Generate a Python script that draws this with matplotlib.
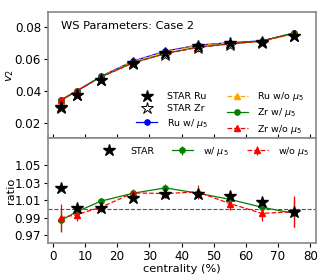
import matplotlib
matplotlib.use("Agg")
import matplotlib.pyplot as plt
import numpy as np

cent = [2.5, 7.5, 15, 25, 35, 45, 55, 65, 75]

star_ru = [0.0297, 0.0376, 0.0470, 0.0578, 0.0638, 0.0683, 0.0700, 0.0708, 0.0745]
star_zr = [0.0290, 0.0376, 0.0470, 0.0571, 0.0627, 0.0671, 0.0690, 0.0703, 0.0747]
ru_w = [0.0340, 0.0400, 0.0492, 0.0588, 0.0650, 0.0688, 0.0703, 0.0715, 0.0762]
ru_wo = [0.0338, 0.0398, 0.0490, 0.0586, 0.0646, 0.0686, 0.0700, 0.0710, 0.0760]
zr_w = [0.0344, 0.0401, 0.0488, 0.0578, 0.0635, 0.0676, 0.0695, 0.0714, 0.0766]
zr_wo = [0.0341, 0.0401, 0.0489, 0.0576, 0.0635, 0.0673, 0.0696, 0.0714, 0.0762]

ratio_star = [1.024, 1.001, 1.001, 1.0126, 1.0176, 1.0176, 1.015, 1.0074, 0.997]
ratio_w = [0.987, 0.997, 1.009, 1.018, 1.024, 1.018, 1.011, 1.002, 0.995]
ratio_w_err = [0.012, 0.005, 0.004, 0.004, 0.004, 0.005, 0.005, 0.006, 0.016]
ratio_wo = [0.990, 0.9937, 1.002, 1.0183, 1.0176, 1.0194, 1.0062, 0.995, 0.997]
ratio_wo_err = [0.016, 0.007, 0.005, 0.005, 0.005, 0.008, 0.007, 0.009, 0.018]

fig = plt.figure(figsize=(3.2, 2.8), dpi=100)
ax1 = fig.add_axes([0.15, 0.507, 0.8375, 0.45])
ax2 = fig.add_axes([0.15, 0.132, 0.8375, 0.375], sharex=ax1)

fs = 8.2
tfs = 8.6
lfs = 6.8
ms = 3.8
sms = 8.8

ax1.plot(cent, ru_w, '-o', color='blue', ms=ms, lw=0.9, label=r'Ru w/ $\mu_5$', zorder=2)
ax1.plot(cent, ru_wo, '--^', color='orange', ms=ms, lw=0.9, label=r'Ru w/o $\mu_5$', zorder=2)
ax1.plot(cent, zr_w, '-o', color='green', ms=ms, lw=0.9, label=r'Zr w/ $\mu_5$', zorder=2)
ax1.plot(cent, zr_wo, '--^', color='red', ms=ms, lw=0.9, label=r'Zr w/o $\mu_5$', zorder=2)
ax1.plot(cent, star_zr, '*', mfc='white', mec='black', ms=sms, mew=0.7, label='STAR Zr',
         zorder=3, linestyle='none')
ax1.plot(cent, star_ru, '*', color='black', ms=sms, label='STAR Ru', zorder=4, linestyle='none')

h, l = ax1.get_legend_handles_labels()
order = [5, 4, 0, 1, 2, 3]
ax1.legend([h[i] for i in order], [l[i] for i in order], ncol=2, frameon=False,
           fontsize=lfs, loc='lower right', bbox_to_anchor=(0.97, -0.01),
           handlelength=2.2, columnspacing=2.0,
           labelspacing=0.32, borderaxespad=0.0, handletextpad=1.0)

ax1.set_ylim(0.0104, 0.0896)
ax1.set_yticks([0.02, 0.04, 0.06, 0.08])
ax1.set_ylabel(r'$v_2$', fontsize=fs)
ax1.yaxis.set_label_coords(-0.118, 0.5)
ax1.text(0.05, 0.93, 'WS Parameters: Case 2', transform=ax1.transAxes, fontsize=fs,
         va='top', ha='left')
ax1.tick_params(axis='x', direction='in', labelbottom=False)

ax2.axhline(1.0, color='#555555', ls='--', lw=0.8, zorder=1)
ax2.errorbar(cent, ratio_w, yerr=ratio_w_err, fmt='-o', color='green', ms=ms, lw=0.9,
             elinewidth=0.9, label=r'w/ $\mu_5$', zorder=2)
ax2.errorbar(cent, ratio_wo, yerr=ratio_wo_err, fmt='--^', color='red', ms=ms, lw=0.9,
             elinewidth=0.9, label=r'w/o $\mu_5$', zorder=2)
ax2.plot(cent, ratio_star, '*', color='black', ms=sms, label='STAR', zorder=4, linestyle='none')
ax2.legend(ncol=3, frameon=False, fontsize=lfs, loc='upper right', handlelength=2.2,
           columnspacing=1.9, borderaxespad=0.3, handletextpad=1.1)

ax2.set_ylim(0.9613, 1.0807)
ax2.set_yticks([0.97, 0.99, 1.01, 1.03, 1.05])
ax2.set_xlim(-1.5, 81.8)
ax2.set_xticks(range(0, 81, 10))
ax2.set_ylabel('ratio', fontsize=fs)
ax2.yaxis.set_label_coords(-0.118, 0.5)
ax2.set_xlabel('centrality (%)', fontsize=fs)
ax2.xaxis.set_label_coords(0.5, -0.195)

for ax in (ax1, ax2):
    ax.tick_params(labelsize=tfs, length=3, pad=2.0)
    for s in ax.spines.values():
        s.set_color('#888888')
        s.set_linewidth(1.2)

fig.savefig('out.png', dpi=100)
